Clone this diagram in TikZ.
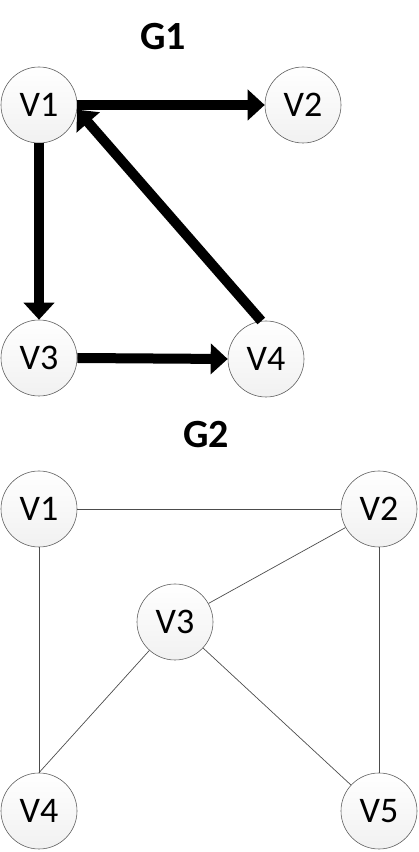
\documentclass[tikz,border=0pt]{standalone}
\usepackage{fontspec}
\setmainfont{Carlito}
\usetikzlibrary{arrows.meta}

\begin{document}
\begin{tikzpicture}[x=1pt,y=1pt,
    vertex/.style={circle,draw=gray!75!black,line width=0.6pt,top color=white,bottom color=gray!11,
      minimum size=76pt,inner sep=0pt,font=\fontsize{36}{36}\selectfont},
    title/.style={font=\fontsize{40}{40}\selectfont\bfseries},
    directed/.style={line width=10pt,-{Triangle[length=17pt,width=30pt]}},
    undirected/.style={gray!60!black,line width=0.7pt}]
      \useasboundingbox (0,0) rectangle (419,852);
      % G1
      \node [title] (t1) at (163,815) {G1};
      \node [vertex] (a1) at (39,747) {V1};
      \node [vertex] (a2) at (303,747) {V2};
      \node [vertex] (a3) at (39,494) {V3};
      \node [vertex] (a4) at (266,493) {V4};
      \draw [directed] (a1.east) -- (a2.west);
      \draw [directed] (a1.south) -- (a3.north);
      \draw [directed] (a3.east) -- (a4.west);
      \draw [directed] (a4.97) -- (a1.-7);
      % G2
      \node [title] (t2) at (206,417) {G2};
      \node [vertex] (b1) at (39,343) {V1};
      \node [vertex] (b2) at (379,343) {V2};
      \node [vertex] (b3) at (175,230) {V3};
      \node [vertex] (b4) at (39,41) {V4};
      \node [vertex] (b5) at (379,41) {V5};
      \draw [undirected] (b1) -- (b2);
      \draw [undirected] (b1) -- (b4);
      \draw [undirected] (b2) -- (b3);
      \draw [undirected] (b2) -- (b5);
      \draw [undirected] (b3) -- (b4.north);
      \draw [undirected] (b3) -- (b5);
    \end{tikzpicture}
\end{document}
